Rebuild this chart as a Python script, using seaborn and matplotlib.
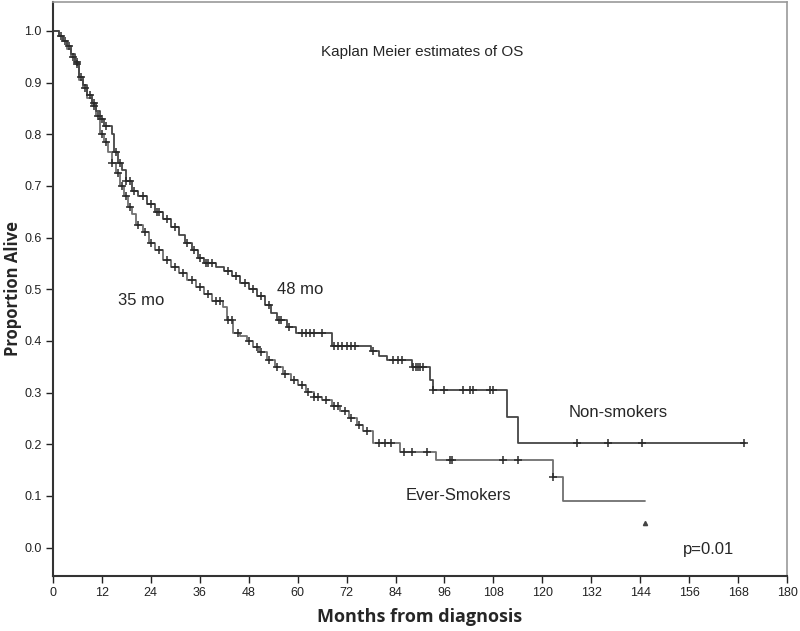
import numpy as np
import pandas as pd
import matplotlib
matplotlib.use('Agg')
import matplotlib.pyplot as plt
import seaborn as sns

# Kaplan-Meier step knots (months, proportion alive)
ns_times = [0, 1.5, 2.5, 3.5, 4.5, 5.5, 6.5, 7.5, 8.5, 9.5, 10.5, 11.5, 12.5, 14.5,
            15, 16, 17, 18, 19.5, 21, 23, 25, 27, 29, 31, 32.5, 34, 35.5, 37, 40,
            42, 44, 46, 48, 50, 52, 53.5, 55, 57.5, 59.5, 68.5, 78, 80, 82, 88,
            92.5, 93.2, 111.3, 114, 169.7]
ns_surv = [1.0, 0.99, 0.98, 0.97, 0.955, 0.94, 0.91, 0.895, 0.875, 0.86, 0.845, 0.83,
           0.815, 0.80, 0.765, 0.745, 0.73, 0.71, 0.69, 0.68, 0.665, 0.65, 0.635,
           0.62, 0.605, 0.59, 0.575, 0.56, 0.55, 0.543, 0.535, 0.525, 0.512, 0.50,
           0.486, 0.47, 0.455, 0.44, 0.427, 0.415, 0.39, 0.38, 0.37, 0.363, 0.35,
           0.325, 0.305, 0.253, 0.203, 0.203]

es_times = [0, 1.5, 2.5, 3.5, 4.5, 5.5, 6.5, 7.5, 8.5, 9.5, 10.5, 11.5, 12.5, 13.5,
            14.5, 15.5, 16.5, 17.5, 18.5, 19.5, 20.5, 22, 23.5, 25, 27, 29, 31, 33,
            35, 37, 39, 41.7, 42.6, 44.2, 46, 47.5, 49, 50.5, 52.4, 54.5, 56.5, 58.5,
            60, 62, 64, 66, 68.5, 70.5, 72.5, 74.5, 76, 78.5, 85, 94, 122.6, 125.1,
            145.2]
es_surv = [1.0, 0.99, 0.98, 0.965, 0.95, 0.935, 0.905, 0.89, 0.87, 0.855, 0.835, 0.80,
           0.785, 0.765, 0.745, 0.725, 0.70, 0.68, 0.66, 0.645, 0.625, 0.61, 0.59,
           0.575, 0.556, 0.543, 0.531, 0.518, 0.505, 0.49, 0.477, 0.465, 0.44, 0.415,
           0.41, 0.40, 0.388, 0.378, 0.363, 0.35, 0.337, 0.325, 0.315, 0.302, 0.292,
           0.285, 0.275, 0.265, 0.25, 0.238, 0.225, 0.203, 0.186, 0.17, 0.137, 0.09,
           0.09]

# censored observations (months)
ns_censor = [2, 4, 6, 7, 9, 10, 12, 13, 15.5, 16.5, 18, 19, 20, 22, 24, 25.5, 26, 28,
             30, 33, 34.5, 36, 37.5, 38, 39, 43, 45, 47, 49, 51, 53, 55.5, 56, 58, 61,
             62, 63, 64, 66, 69, 70, 71, 72, 73, 74, 78.5, 83.5, 84.5, 85.5, 88.3, 89,
             89.5, 90, 90.7, 93.2, 96, 100.5, 102.3, 103, 107.2, 108, 128.5, 136,
             144.5, 169.5]
es_censor = [3, 5, 6, 8, 10, 11, 12, 13, 14.5, 16, 17, 18, 19, 21, 22.5, 24, 26, 28,
             30, 32, 34, 36, 38, 40, 41, 43, 44, 45.5, 48, 50, 51, 53, 55, 57, 59, 61,
             62.5, 64, 65, 67, 69, 70, 71.5, 73, 75, 77, 80, 81.5, 83, 86, 88, 91.7,
             97.4, 97.9, 110.4, 114, 122.6]

stray_x = [145.2]
stray_y = [0.048]

x_ticks = list(range(0, 181, 12))
y_ticks = [0.0, 0.1, 0.2, 0.3, 0.4, 0.5, 0.6, 0.7, 0.8, 0.9, 1.0]


def step_value(times, surv, t):
    i = np.searchsorted(times, t, side='right') - 1
    return np.asarray(surv)[i]


curves = pd.concat([
    pd.DataFrame({'month': ns_times, 'surv': ns_surv, 'group': 'Non-smokers'}),
    pd.DataFrame({'month': es_times, 'surv': es_surv, 'group': 'Ever-Smokers'}),
])
censors = pd.concat([
    pd.DataFrame({'month': ns_censor, 'surv': step_value(ns_times, ns_surv, ns_censor),
                  'group': 'Non-smokers'}),
    pd.DataFrame({'month': es_censor, 'surv': step_value(es_times, es_surv, es_censor),
                  'group': 'Ever-Smokers'}),
])

sns.set_style('ticks')
plt.rcParams['font.family'] = ['Liberation Sans', 'DejaVu Sans']

fig = plt.figure(figsize=(8, 6.31), dpi=100)
ax = fig.add_axes([0.066, 0.087, 0.918, 0.910])

line_colors = {'Non-smokers': '#454545', 'Ever-Smokers': '#707070'}
for grp, d in curves.groupby('group'):
    sns.lineplot(data=d, x='month', y='surv', ax=ax, color=line_colors[grp],
                 drawstyle='steps-post', linewidth=1.3, estimator=None, sort=False)
    c = censors[censors['group'] == grp]
    sns.scatterplot(data=c, x='month', y='surv', ax=ax, marker='+', s=35,
                    color='#2a2a2a', linewidth=1.1, zorder=3)

ax.plot(stray_x, stray_y, marker='^', markersize=3, color='#444444', linestyle='none')

ax.set_xlim(0, 180)
ax.set_ylim(-0.055, 1.056)
ax.set_xticks(x_ticks)
ax.set_yticks(y_ticks)
ax.set_yticklabels([f'{v:.1f}' for v in y_ticks])
ax.tick_params(axis='both', direction='out', length=5, width=1, labelsize=9,
               colors='#222222', pad=3)

ax.set_xlabel('Months from diagnosis', fontsize=13, fontweight='bold',
              family=['Open Sans', 'DejaVu Sans'], labelpad=6)
ax.set_ylabel('Proportion Alive', fontsize=12, fontweight='bold',
              family=['Open Sans', 'DejaVu Sans'], labelpad=2)

for side in ['left', 'bottom']:
    ax.spines[side].set_color('#333333')
    ax.spines[side].set_linewidth(1.5)
for side in ['top', 'right']:
    ax.spines[side].set_visible(True)
    ax.spines[side].set_color('#999999')
    ax.spines[side].set_linewidth(1.2)

ax.text(90.5, 0.959, 'Kaplan Meier estimates of OS', fontsize=11, ha='center', va='center')
ax.text(21.6, 0.479, '35 mo', fontsize=12, ha='center', va='center')
ax.text(60.6, 0.499, '48 mo', fontsize=12, ha='center', va='center')
ax.text(138.5, 0.261, 'Non-smokers', fontsize=12, ha='center', va='center')
ax.text(99.4, 0.10, 'Ever-Smokers', fontsize=12, ha='center', va='center')
ax.text(160.7, -0.003, 'p=0.01', fontsize=12, ha='center', va='center')

fig.savefig('out.png', dpi=100)
